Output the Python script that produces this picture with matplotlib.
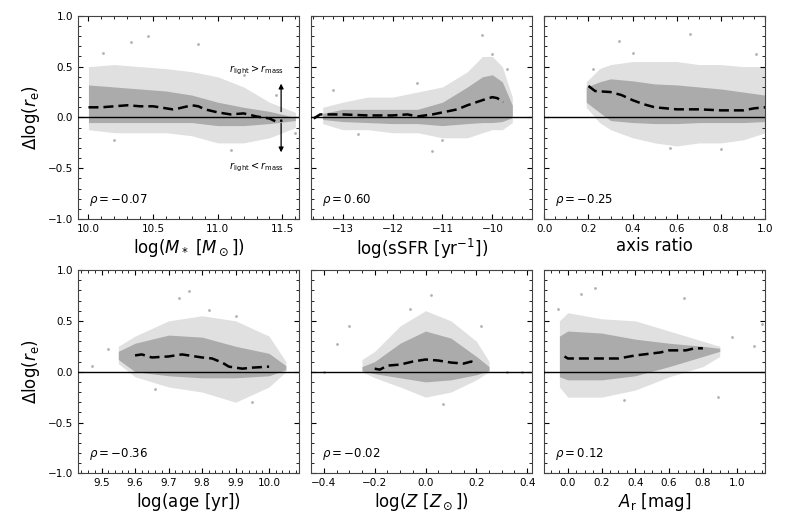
import numpy as np
import matplotlib.pyplot as plt
from matplotlib.ticker import AutoMinorLocator, MultipleLocator

# ---- panel definitions ----
xlabels = [r"$\log(M_*\ [M_\odot])$", r"$\log(\mathrm{sSFR}\ [\mathrm{yr}^{-1}])$", "axis ratio",
           r"$\log(\mathrm{age}\ [\mathrm{yr}])$", r"$\log(Z\ [Z_\odot])$", r"$A_\mathrm{r}$ [mag]"]
xlims = [(9.92, 11.63), (-13.63, -9.2), (0.0, 1.0), (9.43, 10.09), (-0.45, 0.42), (-0.14, 1.17)]
xticks = [[10.0, 10.5, 11.0, 11.5], [-13, -12, -11, -10], [0.0, 0.2, 0.4, 0.6, 0.8, 1.0],
          [9.5, 9.6, 9.7, 9.8, 9.9, 10.0], [-0.4, -0.2, 0.0, 0.2, 0.4], [0.0, 0.2, 0.4, 0.6, 0.8, 1.0]]
rho_vals = ["-0.07", "0.60", "-0.25", "-0.36", "-0.02", "0.12"]

# running medians (dashed lines)
med_mass_x = [10.0, 10.1, 10.2, 10.3, 10.4, 10.5, 10.6, 10.65, 10.7, 10.8, 10.85, 10.9, 11.0, 11.1, 11.2, 11.3, 11.35, 11.4, 11.45, 11.5]
med_mass_y = [0.10, 0.10, 0.11, 0.12, 0.11, 0.11, 0.09, 0.08, 0.09, 0.12, 0.11, 0.08, 0.05, 0.03, 0.04, 0.01, 0.00, -0.01, -0.04, -0.03]
med_ssfr_x = [-13.58, -13.45, -13.0, -12.5, -12.0, -11.7, -11.5, -11.2, -11.0, -10.7, -10.5, -10.2, -10.0, -9.9, -9.78]
med_ssfr_y = [-0.01, 0.03, 0.03, 0.02, 0.02, 0.03, 0.01, 0.03, 0.05, 0.08, 0.12, 0.17, 0.20, 0.19, 0.15]
med_q_x = [0.20, 0.23, 0.30, 0.35, 0.40, 0.45, 0.50, 0.60, 0.70, 0.80, 0.90, 0.95, 1.00]
med_q_y = [0.31, 0.26, 0.25, 0.22, 0.17, 0.13, 0.10, 0.08, 0.08, 0.07, 0.07, 0.09, 0.10]
med_age_x = [9.60, 9.62, 9.65, 9.70, 9.74, 9.80, 9.83, 9.86, 9.88, 9.92, 9.95, 10.0]
med_age_y = [0.16, 0.17, 0.14, 0.15, 0.17, 0.14, 0.13, 0.09, 0.05, 0.03, 0.04, 0.05]
med_z_x = [-0.20, -0.18, -0.15, -0.10, -0.05, 0.0, 0.05, 0.10, 0.15, 0.18, 0.20]
med_z_y = [0.03, 0.02, 0.06, 0.07, 0.10, 0.12, 0.11, 0.09, 0.08, 0.10, 0.08]
med_ar_x = [-0.02, 0.0, 0.1, 0.2, 0.3, 0.4, 0.5, 0.55, 0.6, 0.7, 0.75, 0.8]
med_ar_y = [0.15, 0.13, 0.13, 0.13, 0.13, 0.16, 0.18, 0.19, 0.21, 0.21, 0.23, 0.23]

# scatter cloud envelopes: x, sparse low/high, dense low/high
cloud_mass_x = [10.0, 10.2, 10.4, 10.6, 10.8, 11.0, 11.2, 11.4, 11.6]
cloud_mass_lo = [-0.12, -0.15, -0.15, -0.15, -0.18, -0.25, -0.25, -0.2, -0.1]
cloud_mass_hi = [0.50, 0.52, 0.50, 0.48, 0.45, 0.40, 0.30, 0.15, 0.05]
core_mass_lo = [-0.05, -0.05, -0.05, -0.05, -0.05, -0.08, -0.08, -0.06, -0.03]
core_mass_hi = [0.32, 0.30, 0.28, 0.26, 0.22, 0.15, 0.10, 0.06, 0.0]

cloud_ssfr_x = [-13.4, -13.0, -12.5, -12.0, -11.5, -11.0, -10.5, -10.2, -10.0, -9.8, -9.6]
cloud_ssfr_lo = [-0.06, -0.12, -0.12, -0.15, -0.15, -0.20, -0.20, -0.15, -0.12, -0.12, -0.05]
cloud_ssfr_hi = [0.10, 0.15, 0.20, 0.20, 0.25, 0.30, 0.45, 0.60, 0.60, 0.50, 0.20]
core_ssfr_lo = [-0.02, -0.04, -0.05, -0.06, -0.06, -0.08, -0.06, -0.05, -0.05, -0.04, 0.0]
core_ssfr_hi = [0.04, 0.08, 0.08, 0.08, 0.08, 0.15, 0.30, 0.40, 0.42, 0.35, 0.12]

cloud_q_x = [0.19, 0.25, 0.3, 0.4, 0.5, 0.6, 0.7, 0.8, 0.9, 1.0]
cloud_q_lo = [0.10, -0.05, -0.12, -0.20, -0.25, -0.28, -0.25, -0.25, -0.22, -0.15]
cloud_q_hi = [0.35, 0.48, 0.52, 0.55, 0.55, 0.55, 0.52, 0.52, 0.50, 0.50]
core_q_lo = [0.15, 0.05, -0.03, -0.05, -0.06, -0.06, -0.05, -0.05, -0.05, -0.04]
core_q_hi = [0.30, 0.35, 0.38, 0.36, 0.33, 0.32, 0.30, 0.28, 0.25, 0.22]

cloud_age_x = [9.55, 9.6, 9.7, 9.8, 9.9, 10.0, 10.05]
cloud_age_lo = [0.08, -0.05, -0.15, -0.20, -0.30, -0.15, 0.0]
cloud_age_hi = [0.25, 0.35, 0.50, 0.55, 0.50, 0.35, 0.10]
core_age_lo = [0.12, 0.0, -0.04, -0.06, -0.06, -0.04, 0.02]
core_age_hi = [0.20, 0.28, 0.36, 0.34, 0.25, 0.18, 0.06]

cloud_z_x = [-0.25, -0.2, -0.1, 0.0, 0.1, 0.2, 0.25]
cloud_z_lo = [0.0, -0.06, -0.15, -0.25, -0.20, -0.08, 0.0]
cloud_z_hi = [0.12, 0.20, 0.45, 0.60, 0.50, 0.30, 0.10]
core_z_lo = [0.01, -0.02, -0.06, -0.10, -0.08, -0.03, 0.01]
core_z_hi = [0.05, 0.10, 0.28, 0.40, 0.33, 0.15, 0.05]

cloud_ar_x = [-0.05, 0.0, 0.2, 0.4, 0.6, 0.8, 0.9]
cloud_ar_lo = [-0.15, -0.25, -0.25, -0.18, -0.05, 0.05, 0.15]
cloud_ar_hi = [0.50, 0.58, 0.52, 0.50, 0.40, 0.30, 0.25]
core_ar_lo = [-0.05, -0.08, -0.08, -0.04, 0.05, 0.15, 0.2]
core_ar_hi = [0.35, 0.40, 0.38, 0.32, 0.28, 0.25, 0.23]

# isolated outlying points visible in the reference
out_mass_x = [10.46, 10.33, 10.85, 10.11, 11.2, 11.6, 11.1, 10.2, 11.45]
out_mass_y = [0.80, 0.74, 0.72, 0.63, 0.42, -0.15, -0.32, -0.22, 0.22]
out_ssfr_x = [-10.2, -10.0, -13.2, -12.7, -11.2, -11.0, -11.5, -9.7]
out_ssfr_y = [0.81, 0.62, 0.27, -0.16, -0.33, -0.22, 0.34, 0.48]
out_q_x = [0.34, 0.66, 0.40, 0.22, 0.57, 0.80, 0.96]
out_q_y = [0.75, 0.82, 0.63, 0.48, -0.30, -0.31, 0.62]
out_age_x = [9.47, 9.52, 9.76, 9.73, 9.82, 9.95, 9.66, 9.90]
out_age_y = [0.06, 0.22, 0.79, 0.72, 0.61, -0.30, -0.17, 0.55]
out_z_x = [-0.35, -0.30, 0.02, -0.06, 0.07, 0.22, 0.32, -0.40, 0.38]
out_z_y = [0.27, 0.45, 0.75, 0.62, -0.32, 0.45, 0.0, 0.0, 0.0]
out_ar_x = [0.16, 0.08, 0.69, 0.89, 1.1, 1.15, 0.97, -0.06, 0.33]
out_ar_y = [0.82, 0.76, 0.72, -0.25, 0.25, 0.47, 0.34, 0.62, -0.28]

medians = [(med_mass_x, med_mass_y), (med_ssfr_x, med_ssfr_y), (med_q_x, med_q_y),
           (med_age_x, med_age_y), (med_z_x, med_z_y), (med_ar_x, med_ar_y)]
clouds = [(cloud_mass_x, cloud_mass_lo, cloud_mass_hi, core_mass_lo, core_mass_hi),
          (cloud_ssfr_x, cloud_ssfr_lo, cloud_ssfr_hi, core_ssfr_lo, core_ssfr_hi),
          (cloud_q_x, cloud_q_lo, cloud_q_hi, core_q_lo, core_q_hi),
          (cloud_age_x, cloud_age_lo, cloud_age_hi, core_age_lo, core_age_hi),
          (cloud_z_x, cloud_z_lo, cloud_z_hi, core_z_lo, core_z_hi),
          (cloud_ar_x, cloud_ar_lo, cloud_ar_hi, core_ar_lo, core_ar_hi)]
outliers = [(out_mass_x, out_mass_y), (out_ssfr_x, out_ssfr_y), (out_q_x, out_q_y),
            (out_age_x, out_age_y), (out_z_x, out_z_y), (out_ar_x, out_ar_y)]

fig, axes = plt.subplots(2, 3, figsize=(7.89, 5.26), dpi=100, sharey=True)
fig.subplots_adjust(left=0.099, right=0.97, bottom=0.10, top=0.97, wspace=0.054, hspace=0.25)

for i, ax in enumerate(axes.flat):
    cx, lo, hi, clo, chi = clouds[i]
    ax.fill_between(cx, lo, hi, color='#e0e0e0', lw=0, zorder=1)
    ax.fill_between(cx, clo, chi, color='#ababab', lw=0, zorder=2)
    ox, oy = outliers[i]
    ax.scatter(ox, oy, s=4, color='#b0b0b0', lw=0, zorder=2)
    ax.axhline(0, color='black', lw=1, zorder=3)
    mx, my = medians[i]
    ax.plot(mx, my, color='black', ls='--', lw=1.8, dashes=(4, 2), zorder=4)

    ax.set_xlim(*xlims[i])
    ax.set_ylim(-1, 1)
    ax.set_xticks(xticks[i])
    ax.yaxis.set_major_locator(MultipleLocator(0.5))
    ax.xaxis.set_minor_locator(AutoMinorLocator())
    ax.yaxis.set_minor_locator(AutoMinorLocator())
    ax.tick_params(which='both', direction='in', top=True, right=True, labelsize=7.5)
    ax.tick_params(which='major', length=3.5)
    ax.tick_params(which='minor', length=2)
    for sp in ax.spines.values():
        sp.set_color('#444444')
    ax.set_xlabel(xlabels[i], fontsize=12, labelpad=2)
    ax.text(0.05, 0.08, r"$\rho = %s$" % rho_vals[i], transform=ax.transAxes, fontsize=8.5)
    if i % 3 == 0:
        ax.set_ylabel(r"$\Delta\log(r_\mathrm{e})$", fontsize=12)

# arrows in the first panel
ax0 = axes[0, 0]
ax0.annotate('', xy=(11.49, 0.36), xytext=(11.49, 0.03),
             arrowprops=dict(arrowstyle='-|>', mutation_scale=7, color='black', lw=0.9))
ax0.annotate('', xy=(11.49, -0.37), xytext=(11.49, -0.03),
             arrowprops=dict(arrowstyle='-|>', mutation_scale=7, color='black', lw=0.9))
ax0.text(11.3, 0.46, r"$r_\mathrm{light} > r_\mathrm{mass}$", fontsize=7, ha='center', va='center')
ax0.text(11.3, -0.49, r"$r_\mathrm{light} < r_\mathrm{mass}$", fontsize=7, ha='center', va='center')

fig.savefig('out.png', dpi=100)
